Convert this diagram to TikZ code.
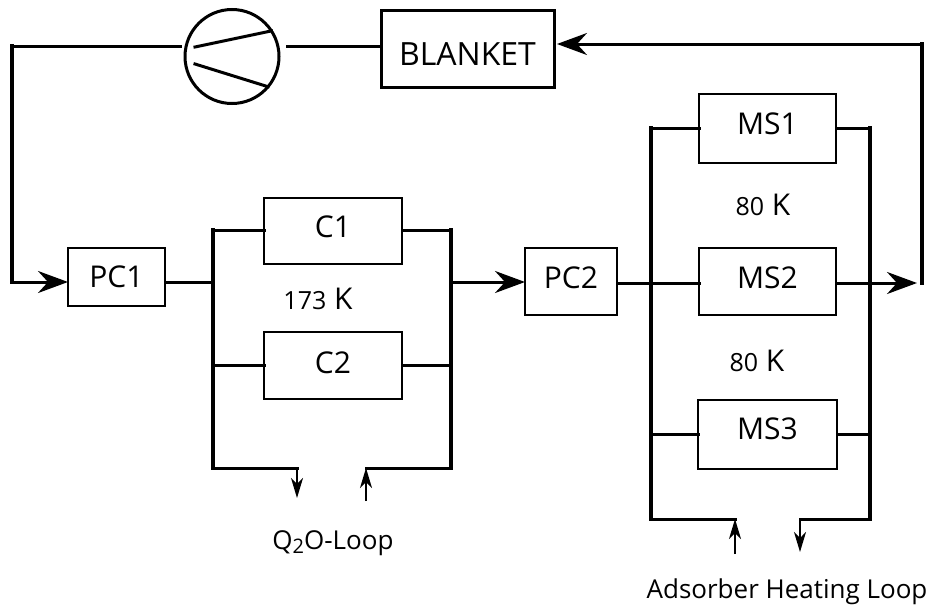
\documentclass[tikz,border=0pt]{standalone}
\usepackage{fontspec}
\setmainfont{Open Sans}
\usetikzlibrary{arrows.meta, positioning}
\newcommand{\templabel}[1]{{\fontsize{25}{28}\selectfont #1}~K}

\begin{document}
\begin{tikzpicture}[
  x=1pt, y=-1pt,
  box/.style={draw, line width=1.8pt, outer sep=0pt, inner sep=0pt, align=center, font=\fontsize{30}{33}\selectfont},
  wire/.style={line width=3pt, line cap=rect},
  bus/.style={line width=4pt, line cap=rect},
  arr/.style={line width=3pt, -{Stealth[length=30pt, width=22pt, inset=10pt]}},
  thinarr/.style={line width=1.5pt, -{Stealth[length=20pt, width=12pt, inset=6pt]}},
  lbl/.style={inner sep=0pt, outer sep=0pt, font=\fontsize{26}{30}\selectfont},
  tlbl/.style={inner sep=0pt, outer sep=0pt, font=\fontsize{30}{33}\selectfont}
]
\useasboundingbox (0,0) rectangle (931,608);

\node[box, minimum width=97pt, minimum height=58pt] (pc1) at (116.5,277) {PC1};
\node[box, minimum width=138pt, minimum height=66pt, text depth=8pt] (c1) at (333,231) {C1};
\node[box, minimum width=138pt, minimum height=67pt, text depth=6pt, below=68pt of c1] (c2) {C2};
\node[box, minimum width=92pt, minimum height=67pt, text depth=8pt] (pc2) at (571,281.5) {PC2};
\node[box, minimum width=137pt, minimum height=69pt, text depth=10pt] (ms1) at (767.5,128.5) {MS1};
\node[box, minimum width=137pt, minimum height=67pt, text depth=8pt, below=85pt of ms1] (ms2) {MS2};
\node[box, minimum width=139pt, minimum height=69pt, text depth=12pt, below=85pt of ms2] (ms3) {MS3};
\node[box, line width=3pt, minimum width=173pt, minimum height=77pt, text height=33pt, font=\fontsize{32}{35}\selectfont] (blanket) at (467.5,48.5) {BLANKET};
\node[draw, circle, line width=3pt, outer sep=0pt, inner sep=0pt, minimum size=94pt] (comp) at (232,56.5) {};

\node[tlbl] (t1) at (318,299) {\templabel{173}};
\node[tlbl] (t2) at (763,205) {\templabel{80}};
\node[tlbl] (t3) at (757,361) {\templabel{80}};
\node[lbl] (qloop) at (333,543) {Q\raisebox{-4pt}{\fontsize{20}{20}\selectfont 2}O-Loop};
\node[lbl] (hloop) at (787,592) {Adsorber Heating Loop};

\coordinate (cl) at (180,46);
\coordinate (cr) at (287,46);
\coordinate (topl) at (12,46);
\coordinate (botl) at (12,282);
\coordinate (bi1) at (195,47);
\coordinate (bi2) at (195,64);

\coordinate (ca) at (213,230);
\coordinate (cb) at (213,282);
\coordinate (cc) at (213,365);
\coordinate (cd) at (213,468);
\coordinate (ce) at (451,230);
\coordinate (cf) at (451,282);
\coordinate (cg) at (451,365);
\coordinate (ch) at (451,468);
\coordinate (qo) at (297,468);
\coordinate (qoe) at (297,498);
\coordinate (qi) at (366,468);
\coordinate (qis) at (366,501);

\coordinate (ma) at (651,128);
\coordinate (mb) at (651,283);
\coordinate (mc) at (651,434);
\coordinate (md) at (651,519);
\coordinate (me) at (870,128);
\coordinate (mf) at (870,283);
\coordinate (mg) at (870,434);
\coordinate (mh) at (870,519);
\coordinate (ho) at (800,519);
\coordinate (hoe) at (800,552);
\coordinate (hi) at (735,519);
\coordinate (his) at (735,554);
\coordinate (rb) at (922,283);
\coordinate (rt) at (922,44);
\coordinate (rtip) at (917,283);
\coordinate (bt) at (557,44);

\draw[wire] (cl) -- (topl);
\draw[bus] (topl) -- (botl);
\draw[arr] (botl) -- (pc1.west |- botl);
\draw[wire] (blanket.west |- cr) -- (cr);
\draw[wire] (comp.33) -- (bi1);
\draw[wire] (comp.-40) -- (bi2);

\draw[wire] (pc1.east |- cb) -- (cb);
\draw[wire] (ca) -- (c1.west |- ca);
\draw[wire] (c1.east |- ce) -- (ce);
\draw[wire] (cc) -- (c2.west |- cc);
\draw[wire] (c2.east |- cg) -- (cg);
\draw[bus] (ca) -- (cd);
\draw[bus] (ce) -- (ch);
\draw[wire] (cd) -- (qo);
\draw[wire] (ch) -- (qi);
\draw[thinarr] (qo) -- (qoe);
\draw[thinarr] (qis) -- (qi);
\draw[arr] (cf) -- (pc2.west |- cf);

\draw[wire] (pc2.east |- mb) -- (mb);
\draw[wire] (mb) -- (ms2.west |- mb);
\draw[wire] (ma) -- (ms1.west |- ma);
\draw[wire] (ms1.east |- me) -- (me);
\draw[wire] (mc) -- (ms3.west |- mc);
\draw[wire] (ms3.east |- mg) -- (mg);
\draw[bus] (ma) -- (md);
\draw[bus] (me) -- (mh);
\draw[wire] (md) -- (hi);
\draw[wire] (mh) -- (ho);
\draw[thinarr] (his) -- (hi);
\draw[thinarr] (ho) -- (hoe);
\draw[arr] (ms2.east |- mf) -- (rtip);
\draw[bus] (rb) -- (rt);
\draw[arr] (rt) -- (bt);
\end{tikzpicture}
\end{document}
